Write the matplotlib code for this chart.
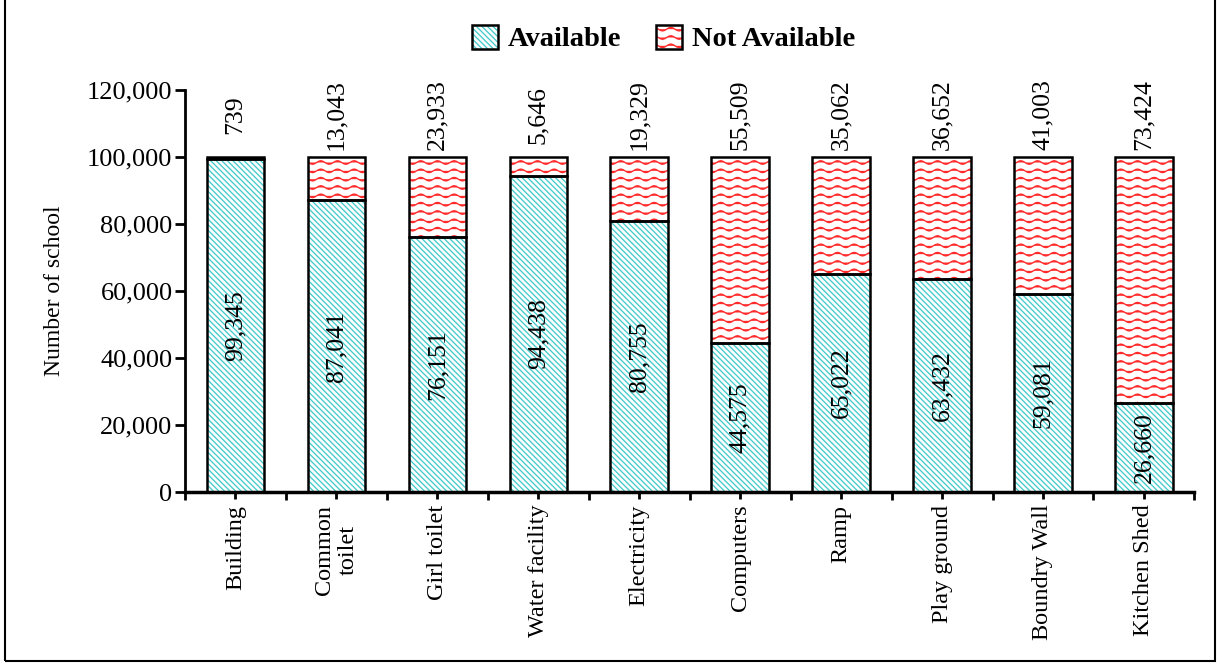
import warnings
import numpy as np
import matplotlib
matplotlib.use("Agg")
import matplotlib.pyplot as plt
import matplotlib.hatch as mhatch
from matplotlib.path import Path
from matplotlib.patches import Patch, Rectangle
from matplotlib.ticker import FuncFormatter

warnings.filterwarnings("ignore")

categories = ["Building", "Common\ntoilet", "Girl toilet", "Water facility", "Electricity",
              "Computers", "Ramp", "Play ground", "Boundry Wall", "Kitchen Shed"]
available = [99345, 87041, 76151, 94438, 80755, 44575, 65022, 63432, 59081, 26660]
not_available = [739, 13043, 23933, 5646, 19329, 55509, 35062, 36652, 41003, 73424]
series_names = ["Available", "Not Available"]


# wavy hatch for the "Not Available" fill ('~' in the hatch string)
class WaveHatch(mhatch.HatchPatternBase):
    pts = 49

    def __init__(self, hatch, density):
        self.num_rows = int(hatch.count("~") * density)
        self.num_vertices = self.num_rows * self.pts

    def set_vertices_and_codes(self, vertices, codes):
        xs = np.linspace(0.0, 1.0, self.pts)
        rows = (np.arange(self.num_rows) + 0.5) / max(self.num_rows, 1)
        for i, r in enumerate(rows):
            sl = slice(i * self.pts, (i + 1) * self.pts)
            vertices[sl, 0] = xs
            vertices[sl, 1] = r + 0.018 * np.sin(2 * np.pi * 6 * xs)
            codes[sl] = Path.LINETO
            codes[i * self.pts] = Path.MOVETO


mhatch._hatch_types.append(WaveHatch)
mhatch._validate_hatch_pattern = lambda h: None

plt.rcParams["font.family"] = "Liberation Serif"
plt.rcParams["hatch.linewidth"] = 0.95

teal = "#45caca"
red = "#ff2a2a"
teal_hatch = "\\\\\\\\\\\\"
red_hatch = "~~"

x = np.arange(len(categories))
width = 0.57
totals = np.array(available) + np.array(not_available)

fig = plt.figure(figsize=(12.22, 6.64), dpi=100)
ax = fig.add_axes([0.1514, 0.259, 0.826, 0.6055])

ax.bar(x, available, width, color="white", edgecolor=teal, hatch=teal_hatch, linewidth=0, zorder=2)
ax.bar(x, not_available, width, bottom=available, color="white", edgecolor=red,
       hatch=red_hatch, linewidth=0, zorder=2)
ax.bar(x, available, width, fill=False, edgecolor="black", linewidth=1.8, zorder=3)
ax.bar(x, not_available, width, bottom=available, fill=False, edgecolor="black",
       linewidth=1.8, zorder=3)

for xi, a, n, t in zip(x, available, not_available, totals):
    ax.text(xi, a / 2, f"{a:,}", rotation=90, ha="center", va="center", fontsize=18.5, zorder=4)
    ax.annotate(f"{n:,}", (xi, t), xytext=(0, 30), textcoords="offset points",
                rotation=90, ha="center", va="center", fontsize=18.5, annotation_clip=False)

ax.set_xlim(-0.5, len(categories) - 0.5)
ax.set_ylim(0, 120000)
ax.set_yticks(np.arange(0, 120001, 20000))
ax.yaxis.set_major_formatter(FuncFormatter(lambda v, p: f"{v:,.0f}"))
ax.set_xticks(x)
ax.set_xticklabels(categories, rotation=90, fontsize=17.5, va="top", ha="center",
                   multialignment="center")
ax.set_xticks(np.arange(-0.5, len(categories), 1), minor=True)
ax.tick_params(axis="x", which="major", length=5, width=2, direction="out", pad=4)
ax.tick_params(axis="x", which="minor", length=6, width=2, direction="out")
ax.tick_params(axis="y", length=7, width=2, direction="out", labelsize=19, pad=2)

for side in ["top", "right"]:
    ax.spines[side].set_visible(False)
ax.spines["left"].set_linewidth(2)
ax.spines["bottom"].set_linewidth(2.5)

ax.set_ylabel("Number of school", fontsize=17, labelpad=16)

handles = [
    (Patch(facecolor="white", edgecolor=teal, hatch=teal_hatch, linewidth=0),
     Patch(fill=False, edgecolor="black", linewidth=1.8)),
    (Patch(facecolor="white", edgecolor=red, hatch=red_hatch, linewidth=0),
     Patch(fill=False, edgecolor="black", linewidth=1.8)),
]
fig.legend(handles, series_names, loc="center", bbox_to_anchor=(0.543, 0.942), ncol=2,
           frameon=False, prop={"family": "Liberation Serif", "weight": "bold", "size": 20.5},
           handlelength=0.92, handleheight=0.92, handletextpad=0.35, columnspacing=1.2)

fig.patches.append(Rectangle((0.004, 0.005), 0.99, 1.2, transform=fig.transFigure,
                             fill=False, edgecolor="black", linewidth=1.5))

fig.savefig("out.png", dpi=100)
